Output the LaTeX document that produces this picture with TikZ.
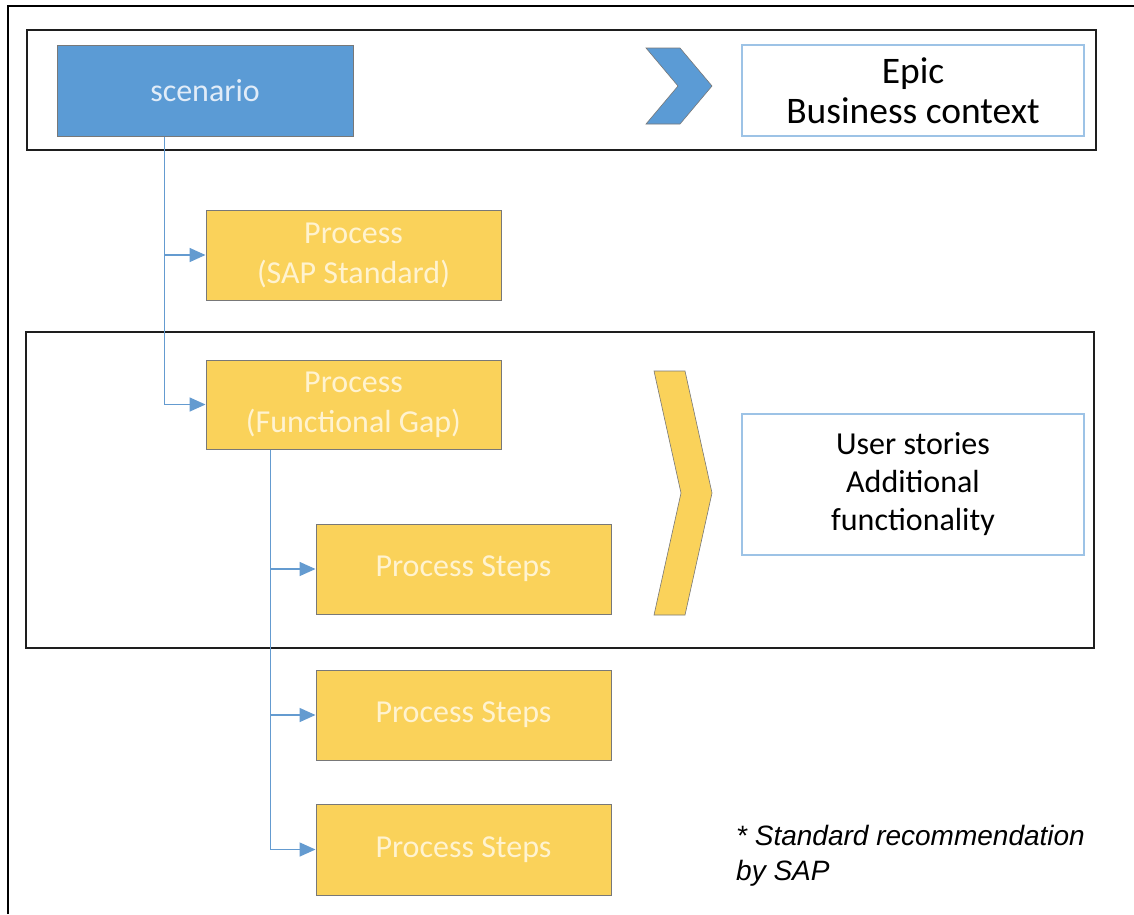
\documentclass[tikz,border=0pt]{standalone}
\usepackage{fontspec}
\setmainfont{Carlito}
\newfontfamily\arialfont{Liberation Sans}
\usetikzlibrary{arrows.meta}
\definecolor{sblue}{RGB}{91,155,213}
\definecolor{sbluetxt}{RGB}{225,236,248}
\definecolor{syellow}{RGB}{250,210,90}
\definecolor{syellowtxt}{RGB}{255,243,208}
\definecolor{lineblue}{RGB}{100,155,208}
\definecolor{edgeblue}{RGB}{157,195,230}
\definecolor{boxedge}{RGB}{120,120,120}
\definecolor{framecol}{RGB}{30,30,30}
\tikzset{
  x=1pt, y=-1pt,
  bluebox/.style={draw=boxedge, line width=1pt, fill=sblue, text=sbluetxt, inner sep=0pt,
    font=\fontsize{32}{40}\selectfont, align=center},
  yellowbox/.style={draw=boxedge, line width=1pt, fill=syellow, text=syellowtxt, inner sep=0pt,
    font=\fontsize{32}{40}\selectfont, align=center, minimum width=295pt, minimum height=90pt},
  whitebox/.style={draw=edgeblue, line width=1.3pt, fill=white, text=black, inner sep=0pt, align=center},
  frame/.style={draw=framecol, line width=2pt},
  conn/.style={draw=lineblue, line width=1.6pt},
  arr/.style={conn, -{Triangle[length=16pt, width=14pt]}},
}
\begin{document}
\begin{tikzpicture}
\useasboundingbox (0,0) rectangle (1134,914);
\fill[white] (0,0) rectangle (1134,914);
% outer frame (top and left edges)
\draw[draw=black, line width=2.6pt] (8,914) -- (8,6) -- (1134,6);
% group frames
\draw[frame] (27,30) rectangle (1096,150);
\draw[frame] (26,332) rectangle (1094,648);
% top row
\node[bluebox, minimum width=296pt, minimum height=91pt] (scenario) at (205,90.5) {scenario};
\node[whitebox, minimum width=342pt, minimum height=91pt, font=\fontsize{37.5}{40}\selectfont] (epic) at (913,90.5) {Epic\\Business context};
\draw[fill=sblue, draw=boxedge, line width=0.6pt] (646,48) -- (680,48) -- (712,86) -- (680,124) -- (646,124) -- (678,86) -- cycle;
% processes
\node[yellowbox] (sap) at (353.5,255) {Process\\(SAP Standard)};
\node[yellowbox, minimum height=89pt] (gap) at (353.5,404.5) {Process\\(Functional Gap)};
\node[yellowbox] (steps1) at (463.5,569) {Process Steps};
\node[yellowbox] (steps2) at (463.5,715) {Process Steps};
\node[yellowbox, minimum height=91pt] (steps3) at (463.5,849.5) {Process Steps};
% user stories
\node[whitebox, minimum width=342pt, minimum height=141pt, font=\fontsize{32}{38}\selectfont] (stories) at (913,484.5) {User stories\\Additional\\functionality};
\draw[fill=syellow, draw=boxedge, line width=0.6pt] (654,371) -- (685,371) -- (712,493) -- (685,615) -- (654,615) -- (681,493) -- cycle;
% connectors
\coordinate (t1) at ([xshift=108pt]scenario.south west);
\coordinate (t2) at ([xshift=65pt]gap.south west);
\draw[conn] (t1) -- (t1 |- gap.west);
\draw[arr] (t1 |- sap.west) -- (sap.west);
\draw[arr] (t1 |- gap.west) -- (gap.west);
\draw[conn] (t2) -- (t2 |- steps3.west);
\draw[arr] (t2 |- steps1.west) -- (steps1.west);
\draw[arr] (t2 |- steps2.west) -- (steps2.west);
\draw[arr] (t2 |- steps3.west) -- (steps3.west);
% footnote
\node[anchor=north west, align=left, inner sep=0pt, font=\arialfont\itshape\fontsize{28}{35}\selectfont] (note) at (736,825) {* Standard recommendation\\by SAP};
\end{tikzpicture}
\end{document}
